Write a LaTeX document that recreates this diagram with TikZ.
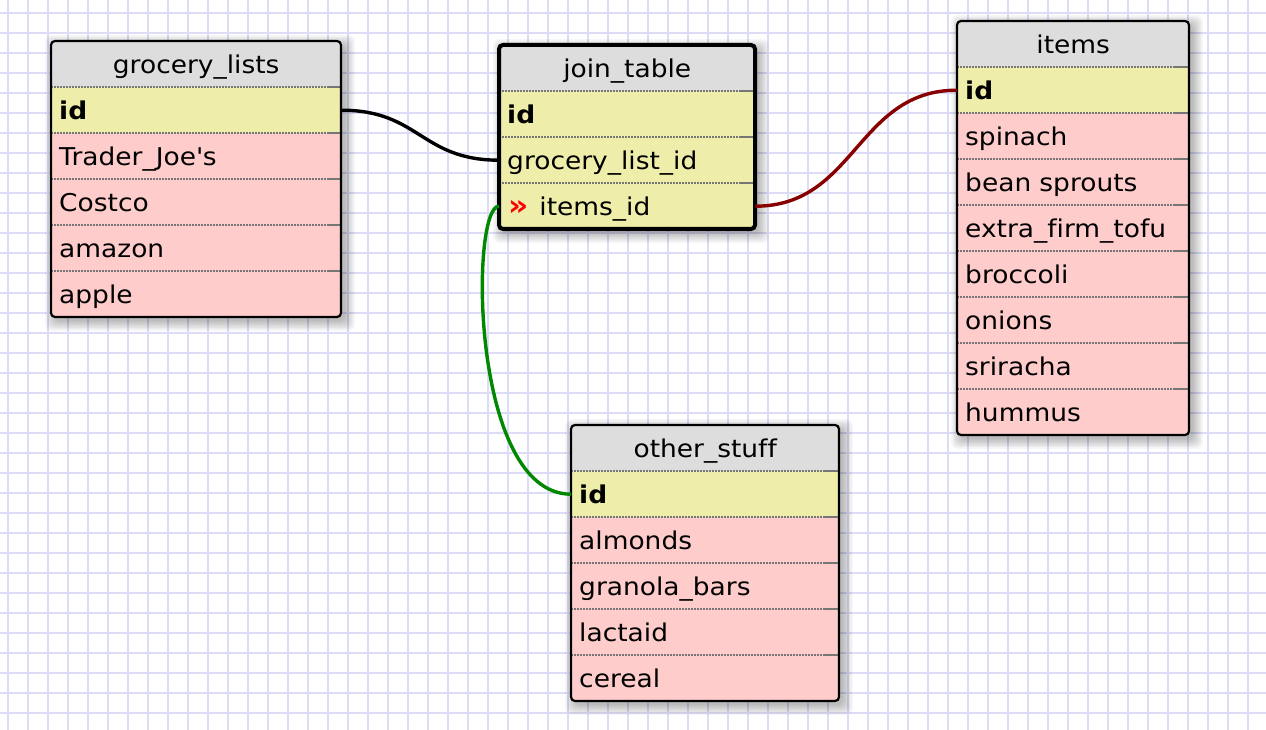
\documentclass[tikz,border=0pt]{standalone}
\usepackage{fontspec}
\setmainfont{DejaVu Sans}[FakeStretch=1.08, Ligatures={NoCommon}]
\usetikzlibrary{calc}

\definecolor{gridlav}{RGB}{220,220,246}
\definecolor{hdrgray}{RGB}{221,221,221}
\definecolor{keyyellow}{RGB}{238,238,170}
\definecolor{fieldpink}{RGB}{255,204,204}
\definecolor{sepgray}{RGB}{118,118,118}
\definecolor{linkred}{RGB}{136,0,0}
\definecolor{linkgreen}{RGB}{0,136,0}

\tikzset{
  cell/.style={rectangle, inner xsep=8pt, inner ysep=0pt, minimum height=46pt,
    text height=21pt, text depth=2pt, anchor=north west,
    font=\fontsize{24.5}{28}\selectfont, align=left},
  headcell/.style={cell, align=center, fill=hdrgray},
  sepdots/.style={sepgray, line width=1.5pt, dash pattern=on 1.5pt off 1.5pt},
  sepend/.style={sepgray, line width=1.5pt},
  frame/.style={draw=black, rounded corners=4pt},
  link/.style={line width=3.4pt},
  gridline/.style={gridlav, line width=1.6pt},
}

% #1 name prefix, #2 left, #3 top, #4 width, #5 number of field rows,
% #6 frame width, #7 title, #8 rows as key/colour/text
\newcommand\erdtable[8]{%
  \pgfmathsetmacro\erdh{46*(#5+1)}%
  \pgfmathsetmacro\erdtw{#4-16}%
  % soft drop shadow
  \foreach \s in {0,...,7}{
    \fill[black, opacity=0.035, rounded corners=6pt]
      (#2+4-\s*1.4, #3+4-\s*1.4) rectangle (#2+#4+4+\s*1.4, #3+\erdh+4+\s*1.4);
  }
  \begin{scope}
    \clip[rounded corners=4pt] (#2,#3) rectangle ++(#4,\erdh);
    \node[headcell, minimum width=#4pt, text width=\erdtw pt] (#1-head) at (#2,#3) {#7};
    \foreach \rk/\rc/\rt [count=\ri] in {#8}{
      \node[cell, fill=\rc, minimum width=#4pt, text width=\erdtw pt] (#1-\rk) at (#2, #3+46*\ri) {\rt};
      \draw[sepdots] (#1-\rk.north west) -- ([xshift=-14pt]#1-\rk.north east);
      \draw[sepend] ([xshift=-14pt]#1-\rk.north east) -- (#1-\rk.north east);
    }
  \end{scope}
  \draw[frame, line width=#6] (#2,#3) rectangle ++(#4,\erdh);
}

\begin{document}
\begin{tikzpicture}[x=1pt, y=-1pt]
  \useasboundingbox (0,0) rectangle (1266,730);
  \fill[white] (0,0) rectangle (1266,730);

  % graph paper
  \foreach \gx in {8,28,...,1248} \draw[gridline] (\gx,0) -- (\gx,730);
  \foreach \gy in {13,33,...,713} \draw[gridline] (0,\gy) -- (1266,\gy);

  \erdtable{gl}{51}{41}{290}{5}{2.2pt}{grocery\_lists}{%
    id/keyyellow/\textbf{id},
    tj/fieldpink/Trader\_Joe\textquotesingle s,
    co/fieldpink/Costco,
    am/fieldpink/amazon,
    ap/fieldpink/apple}

  \erdtable{jt}{499}{45}{256}{3}{4pt}{join\_table}{%
    id/keyyellow/\textbf{id},
    gl/keyyellow/grocery\_list\_id,
    it/keyyellow/{\hspace{1pt}{\color{red}\bfseries\fontsize{29}{28}\selectfont »}\hspace{11pt}items\_id}}

  \erdtable{it}{957}{21}{232}{8}{2.2pt}{items}{%
    id/keyyellow/\textbf{id},
    sp/fieldpink/spinach,
    bs/fieldpink/bean sprouts,
    ef/fieldpink/extra\_firm\_tofu,
    br/fieldpink/broccoli,
    on/fieldpink/onions,
    sr/fieldpink/sriracha,
    hu/fieldpink/hummus}

  \erdtable{os}{571}{425}{268}{5}{2.2pt}{other\_stuff}{%
    id/keyyellow/\textbf{id},
    al/fieldpink/almonds,
    gb/fieldpink/granola\_bars,
    la/fieldpink/lactaid,
    ce/fieldpink/cereal}

  % relations
  \draw[link, black] (gl-id.east) .. controls +(78,0) and +(-78,0) .. (jt-gl.west);
  \draw[link, linkred] (jt-it.east) .. controls +(100,0) and +(-100,0) .. (it-id.west);
  \draw[link, linkgreen] (jt-it.west) .. controls +(-29,0) and +(-101,0) .. (os-id.west);
\end{tikzpicture}
\end{document}
